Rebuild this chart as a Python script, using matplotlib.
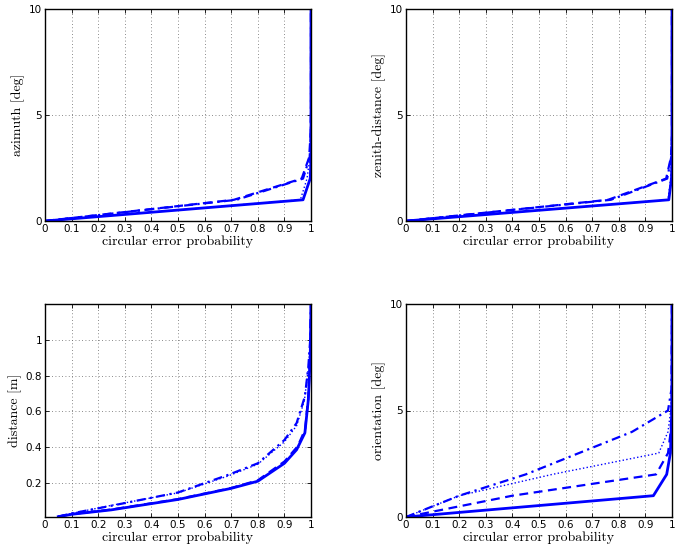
import matplotlib
matplotlib.use("Agg")
import matplotlib.pyplot as plt
import numpy as np

# error levels (deg) for the angle panels
deg_levels = [0, 1, 2, 3, 4, 5, 6, 10]

# azimuth: probability reached at each level
az_solid = [0, 0.97, 0.997, 1.0, 1.0, 1.0, 1.0, 1.0]
az_dashed = [0, 0.71, 0.965, 0.993, 0.998, 1.0, 1.0, 1.0]
az_dotted = [0, 0.96, 0.985, 0.996, 0.999, 1.0, 1.0, 1.0]
az_dashdot = [0, 0.72, 0.97, 0.995, 0.999, 1.0, 1.0, 1.0]

# zenith-distance
zd_solid = [0, 0.988, 0.998, 1.0, 1.0, 1.0, 1.0, 1.0]
zd_dashed = [0, 0.76, 0.978, 0.996, 1.0, 1.0, 1.0, 1.0]
zd_dotted = [0, 0.985, 0.995, 0.999, 1.0, 1.0, 1.0, 1.0]
zd_dashdot = [0, 0.77, 0.982, 0.997, 1.0, 1.0, 1.0, 1.0]

# orientation
or_solid = [0, 0.93, 0.98, 0.994, 0.997, 0.999, 1.0, 1.0]
or_dashed = [0, 0.40, 0.94, 0.985, 0.995, 0.998, 1.0, 1.0]
or_dotted = [0, 0.20, 0.55, 0.95, 0.985, 0.995, 0.999, 1.0]
or_dashdot = [0, 0.20, 0.45, 0.65, 0.85, 0.985, 0.998, 1.0]

# distance [m]: probability vs error
dist_solid_x = [0.05, 0.10, 0.25, 0.50, 0.70, 0.80, 0.90, 0.946, 0.977, 0.99, 0.997, 1.0]
dist_solid_y = [0.012, 0.025, 0.05, 0.108, 0.17, 0.21, 0.31, 0.386, 0.48, 0.666, 0.9, 1.2]
dist_dashed_x = [0.05, 0.10, 0.25, 0.50, 0.70, 0.80, 0.90, 0.95, 0.978, 0.99, 0.997, 1.0]
dist_dashed_y = [0.012, 0.026, 0.052, 0.11, 0.172, 0.215, 0.32, 0.405, 0.5, 0.68, 0.9, 1.2]
dist_dotted_x = [0.05, 0.10, 0.25, 0.50, 0.69, 0.80, 0.90, 0.946, 0.975, 0.99, 0.997, 1.0]
dist_dotted_y = [0.012, 0.03, 0.075, 0.145, 0.24, 0.305, 0.43, 0.52, 0.66, 0.84, 0.98, 1.2]
dist_dashdot_x = [0.05, 0.10, 0.25, 0.50, 0.69, 0.80, 0.90, 0.946, 0.977, 0.99, 0.997, 1.0]
dist_dashdot_y = [0.012, 0.03, 0.073, 0.147, 0.246, 0.31, 0.44, 0.535, 0.684, 0.85, 1.0, 1.2]

xticks = np.arange(0, 1.01, 0.1)
xticklabels = ["0", "0.1", "0.2", "0.3", "0.4", "0.5", "0.6", "0.7", "0.8", "0.9", "1"]

blue = (0, 0, 1)
label_font = dict(family="cmr10", size=10)

fig = plt.figure(figsize=(6.84, 5.52), dpi=100)

W, H = 684.0, 552.0
boxes = [(45, 9, 311, 221), (406, 9, 672, 221), (45, 304, 311, 517), (406, 304, 672, 517)]


def make_ax(box):
    l, t, r, b = box
    return fig.add_axes([l / W, 1 - b / H, (r - l) / W, (b - t) / H])


def style(ax, ylabel):
    ax.set_xlim(0, 1)
    ax.set_xticks(xticks)
    ax.set_xticklabels(xticklabels)
    ax.grid(True, color="#666666", linestyle=(0, (1, 3)), linewidth=0.6)
    ax.tick_params(direction="in", length=3, width=0.6, top=True, right=True,
                   labelsize=7.5, pad=2)
    for s in ax.spines.values():
        s.set_linewidth(1.0)
    ax.set_xlabel("circular error probability", fontdict=label_font, labelpad=1)
    ax.set_ylabel(ylabel, fontdict=label_font, labelpad=3)


def angle_panel(ax, solid, dashed, dotted, dashdot, ylabel):
    ax.plot(dotted, deg_levels, color=blue, linestyle=":", linewidth=1.0)
    ax.plot(dashed, deg_levels, color=blue, linestyle=(0, (4, 2.5)), linewidth=1.6)
    ax.plot(dashdot, deg_levels, color=blue, linestyle=(0, (4, 2, 1, 2)), linewidth=1.6)
    ax.plot(solid, deg_levels, color=blue, linestyle="-", linewidth=2.0)
    ax.set_ylim(0, 10)
    ax.set_yticks([0, 5, 10])
    style(ax, ylabel)


ax1 = make_ax(boxes[0])
angle_panel(ax1, az_solid, az_dashed, az_dotted, az_dashdot, "azimuth [deg]")

ax2 = make_ax(boxes[1])
angle_panel(ax2, zd_solid, zd_dashed, zd_dotted, zd_dashdot, "zenith-distance [deg]")

ax3 = make_ax(boxes[2])
ax3.plot(dist_dotted_x, dist_dotted_y, color=blue, linestyle=":", linewidth=1.0)
ax3.plot(dist_dashed_x, dist_dashed_y, color=blue, linestyle=(0, (4, 2.5)), linewidth=1.6)
ax3.plot(dist_dashdot_x, dist_dashdot_y, color=blue, linestyle=(0, (4, 2, 1, 2)), linewidth=1.6)
ax3.plot(dist_solid_x, dist_solid_y, color=blue, linestyle="-", linewidth=2.0)
ax3.set_ylim(0.01, 1.2)
ax3.set_yticks([0.2, 0.4, 0.6, 0.8, 1.0])
ax3.set_yticklabels(["0.2", "0.4", "0.6", "0.8", "1"])
style(ax3, "distance [m]")

ax4 = make_ax(boxes[3])
angle_panel(ax4, or_solid, or_dashed, or_dotted, or_dashdot, "orientation [deg]")

fig.savefig("out.png", dpi=100)
